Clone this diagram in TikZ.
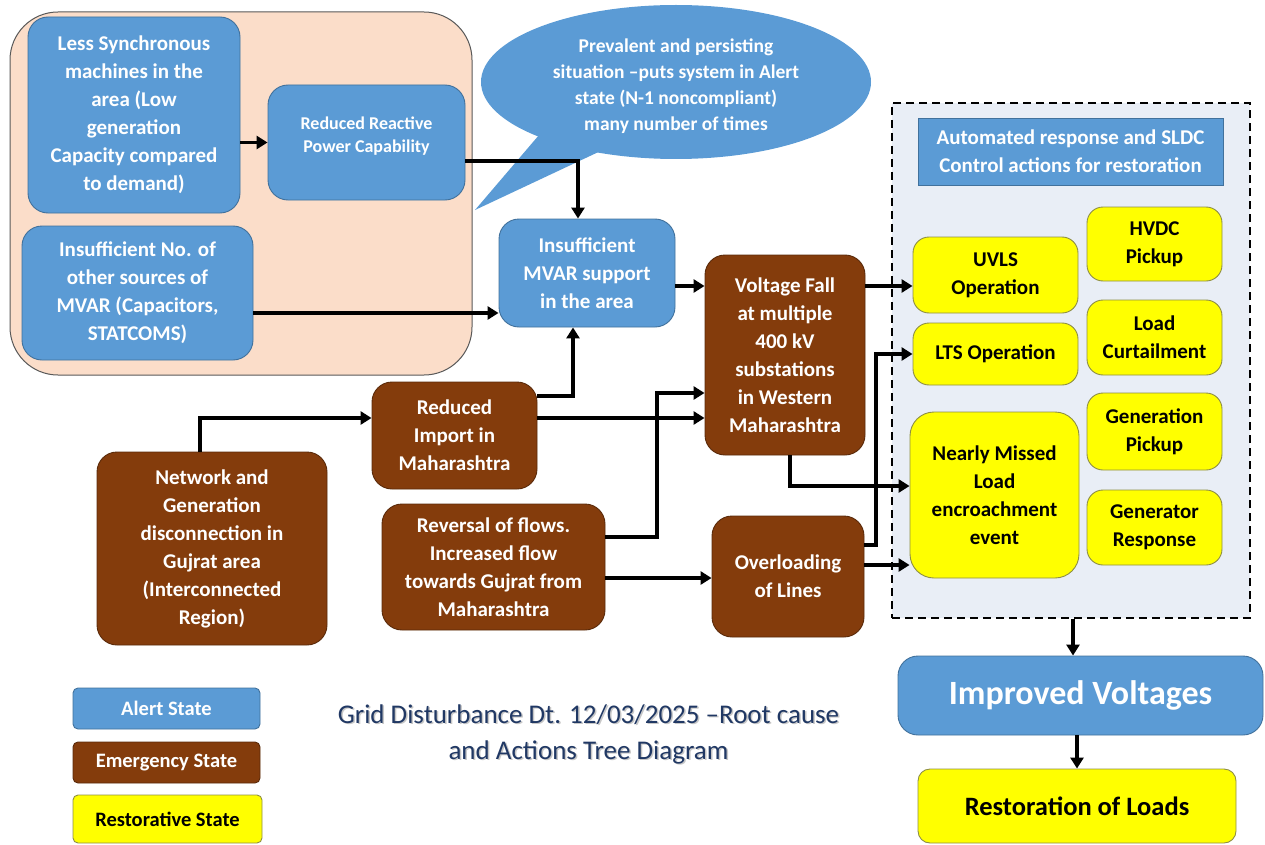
\documentclass[tikz,border=0pt]{standalone}
\usepackage{fontspec}
\setmainfont{Carlito}
\usetikzlibrary{arrows.meta,shapes.geometric,calc}
\definecolor{blueF}{HTML}{5B9BD5}
\definecolor{blueD}{HTML}{41719C}
\definecolor{brownF}{HTML}{843C0C}
\definecolor{brownD}{HTML}{5A2A0A}
\definecolor{yelF}{HTML}{FFFF00}
\definecolor{yelD}{HTML}{8E8E45}
\definecolor{peach}{HTML}{FBDDC9}
\definecolor{peachD}{HTML}{595959}
\definecolor{panelF}{HTML}{E9EEF6}
\definecolor{titleC}{HTML}{203864}
\tikzset{
  base/.style={rounded corners=20pt, align=center, inner sep=2pt, line width=0.9pt,
    font=\bfseries\fontsize{21}{28}\selectfont},
  alert/.style={base, fill=blueF, draw=blueD, text=white},
  emerg/.style={base, fill=brownF, draw=brownD, text=white},
  resto/.style={base, fill=yelF, draw=yelD, text=black, rounded corners=16pt},
  arr/.style={line width=3.4pt, -{Triangle[length=11pt,width=13pt]}},
  legbox/.style={rounded corners=5pt, align=center, line width=0.9pt,
    font=\bfseries\fontsize{20.5}{24}\selectfont},
}
\begin{document}
\begin{tikzpicture}[x=1pt,y=-1pt]
\useasboundingbox (0,0) rectangle (1265,845);
% peach group
\node[draw=peachD, fill=peach, line width=1pt, rounded corners=48pt,
  minimum width=462pt, minimum height=363pt] (grp) at (241,193.5) {};
% dashed panel
\node[draw=black, fill=panelF, line width=1.4pt, dash pattern=on 8pt off 5pt,
  minimum width=358pt, minimum height=515pt] (panel) at (1071,360.5) {};
% speech bubble
\node[ellipse, fill=blueF, minimum width=390pt, minimum height=154pt] (bub) at (676,82) {};
\fill[blueF] (545,128) -- (475,210) -- (607,148) -- cycle;
\node[text=white, align=center, font=\bfseries\fontsize{19.5}{26}\selectfont] (bubtxt) at (676,86)
  {Prevalent and persisting\\situation –puts system in Alert\\state (N-1 noncompliant)\\many number of times};
% blue nodes
\node[alert, minimum width=212pt, minimum height=196pt] (less) at (134,115)
  {Less Synchronous\\machines in the\\area (Low\\generation\\Capacity compared\\to demand)};
\node[alert, font=\bfseries\fontsize{18}{23}\selectfont, text depth=16pt, minimum width=197pt, minimum height=115pt] (rrp) at (366.5,142.5)
  {Reduced Reactive\\Power Capability};
\node[alert, minimum width=231pt, minimum height=134pt] (insno) at (137.5,293)
  {Insufficient No. of\\other sources of\\MVAR (Capacitors,\\STATCOMS)};
\node[alert, minimum width=176pt, minimum height=108pt] (mvar) at (587,273)
  {Insufficient\\MVAR support\\in the area};
% brown nodes
\node[emerg, minimum width=160pt, minimum height=200pt] (vf) at (785,355)
  {Voltage Fall\\at multiple\\400 kV\\substations\\in Western\\Maharashtra};
\node[emerg, minimum width=165pt, minimum height=107pt] (rim) at (454.5,435.5)
  {Reduced\\Import in\\Maharashtra};
\node[emerg, minimum width=230pt, minimum height=193pt] (net) at (212,548.5)
  {Network and\\Generation\\disconnection in\\Gujrat area\\(Interconnected\\Region)};
\node[emerg, minimum width=223pt, minimum height=126pt] (rev) at (493.5,567)
  {Reversal of flows.\\Increased flow\\towards Gujrat from\\Maharashtra};
\node[emerg, minimum width=152pt, minimum height=121pt] (ovl) at (788,576.5)
  {Overloading\\of Lines};
% panel contents
\node[fill=blueF, draw=blueD, line width=0.6pt, text=white, align=center,
  font=\bfseries\fontsize{21}{28}\selectfont, minimum width=305pt, minimum height=67pt] (hdr) at (1070.5,151.5)
  {Automated response and SLDC\\Control actions for restoration};
\node[resto, minimum width=165pt, minimum height=76pt] (uvls) at (995.5,275) {UVLS\\Operation};
\node[resto, minimum width=165pt, minimum height=62pt] (lts) at (995.5,354) {LTS Operation};
\node[resto, rounded corners=24pt, minimum width=169pt, minimum height=166pt] (nm) at (994.5,495)
  {Nearly Missed\\Load\\encroachment\\event};
\node[resto, minimum width=135pt, minimum height=74pt] (hvdc) at (1154.5,244) {HVDC\\Pickup};
\node[resto, minimum width=135pt, minimum height=75pt] (lc) at (1154.5,337.5) {Load\\Curtailment};
\node[resto, minimum width=135pt, minimum height=77pt] (gp) at (1154.5,431.5) {Generation\\Pickup};
\node[resto, minimum width=135pt, minimum height=75pt] (gr) at (1154.5,527.5) {Generator\\Response};
% outcome
\node[alert, font=\bfseries\fontsize{34}{38}\selectfont, minimum width=365pt, minimum height=79pt] (iv) at (1080.5,695.5)
  {Improved Voltages};
\node[resto, rounded corners=12pt, font=\bfseries\fontsize{26.5}{30}\selectfont, minimum width=318pt, minimum height=74pt] (rl) at (1077,806)
  {Restoration of Loads};
% legend
\node[legbox, fill=blueF, draw=blueD, text=white, minimum width=187pt, minimum height=41pt] (legA) at (166.5,708.5) {Alert State};
\node[legbox, fill=brownF, draw=brownD, text=white, minimum width=187pt, minimum height=41pt] (legE) at (166.5,762.5) {Emergency State};
\node[legbox, fill=yelF, draw=yelD, text=black, minimum width=189pt, minimum height=48pt] (legR) at (167.5,819) {Restorative State};
% title
\node[text=black!22, align=center, font=\fontsize{27}{36}\selectfont] (titsh) at (590,735.5)
  {Grid Disturbance Dt. 12/03/2025 –Root cause\\and Actions Tree Diagram};
\node[text=titleC, align=center, font=\fontsize{27}{36}\selectfont] (title) at (588.5,734)
  {Grid Disturbance Dt. 12/03/2025 –Root cause\\and Actions Tree Diagram};
% helper levels
\coordinate (y313) at (0,313);
\coordinate (y286) at (0,286);
\coordinate (y396) at (0,396);
\coordinate (y418) at (0,418);
\coordinate (y537) at (0,537);
\coordinate (y393) at (0,393);
\coordinate (y578) at (0,578);
\coordinate (y545) at (0,545);
\coordinate (y565) at (0,565);
\coordinate (y486) at (0,486);
\coordinate (x657) at (657,0);
\coordinate (x876) at (876,0);
% connectors
\draw[arr] (less.east |- rrp.west) -- (rrp.west);
\draw[arr] ([yshift=-18.5pt]rrp.east) -| ([xshift=-9pt]mvar.north);
\draw[arr] (insno.east |- y313) -- (mvar.west |- y313);
\draw[arr] (mvar.east |- y286) -- (vf.west |- y286);
\draw[arr] (rim.east |- y396) -| ([xshift=-14pt]mvar.south);
\draw[arr] (rim.east |- y418) -- (vf.west |- y418);
\draw[arr] ([xshift=-12pt]net.north) |- (rim.west |- y418);
\draw[arr] (rev.east |- y537) -- (x657 |- y537) -- (x657 |- y393) -- (vf.west |- y393);
\draw[arr] (rev.east |- y578) -- (ovl.west |- y578);
\draw[arr] (ovl.east |- y545) -- (x876 |- y545) -- (x876 |- lts.west) -- (lts.west);
\draw[arr] (ovl.east |- y565) -- (nm.west |- y565);
\draw[arr] ([xshift=5pt]vf.south) |- (nm.west |- y486);
\draw[arr] (vf.east |- y286) -- (uvls.west |- y286);
\draw[arr] ([xshift=2pt]panel.south) -- ([xshift=-7.5pt]iv.north);
\draw[arr] ([xshift=-3.5pt]iv.south) -- (rl.north);
\end{tikzpicture}
\end{document}
